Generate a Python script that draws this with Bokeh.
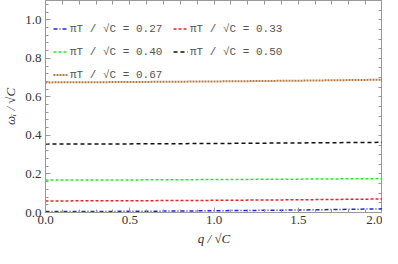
from bokeh.plotting import figure
from bokeh.models import (Range1d, LinearAxis, Legend, LegendItem, SingleIntervalTicker,
                          FixedTicker, NumeralTickFormatter)
from bokeh.embed import file_html
from bokeh.resources import INLINE

q = [0.0, 0.5, 1.0, 1.5, 2.0]
w027 = [0.005, 0.006, 0.009, 0.013, 0.019]
w033 = [0.060, 0.061, 0.063, 0.066, 0.070]
w040 = [0.168, 0.169, 0.171, 0.173, 0.176]
w050 = [0.355, 0.356, 0.358, 0.361, 0.364]
w067 = [0.675, 0.677, 0.680, 0.684, 0.689]
labels = ["πT / √C = 0.27", "πT / √C = 0.33", "πT / √C = 0.40",
          "πT / √C = 0.50", "πT / √C = 0.67"]
x_ticks_minor = [i / 10 for i in range(0, 21)]
y_ticks_minor = [i / 20 for i in range(0, 23)]

p = figure(width=382, height=248, output_backend="svg", toolbar_location=None,
           x_range=Range1d(0, 2.0), y_range=Range1d(0, 1.1),
           min_border_left=7, min_border_right=0, min_border_top=0, min_border_bottom=0)
p.grid.visible = False
p.outline_line_color = "#999999"
p.background_fill_color = "white"

series = [
    (w027, "#2222ee", "4 2 1 2", 1.5),
    (w033, "#ee2222", "3 2", 1.5),
    (w040, "#22ee22", "3 2", 1.5),
    (w050, "#111111", "4 3", 1.5),
    (w067, "#b87a40", "2 1", 2.0),
]
items = []
for (ys, c, d, lw), lab in zip(series, labels):
    r = p.line(q, ys, line_color=c, line_dash=d, line_width=lw)
    items.append(LegendItem(label=lab, renderers=[r]))

def style_axis(ax):
    ax.axis_line_color = "#999999"
    ax.major_tick_line_color = "#999999"
    ax.minor_tick_line_color = "#999999"
    ax.major_tick_in = 5
    ax.major_tick_out = 0
    ax.minor_tick_in = 3
    ax.minor_tick_out = 0
    ax.major_label_text_font = "Liberation Serif"
    ax.major_label_text_font_size = "13px"
    ax.major_label_text_color = "#333333"
    ax.axis_label_text_font = "Liberation Serif"
    ax.axis_label_text_font_style = "italic"
    ax.axis_label_text_font_size = "13px"
    ax.axis_label_text_color = "#333333"

p.xaxis.ticker = SingleIntervalTicker(interval=0.5, num_minor_ticks=5)
p.yaxis.ticker = SingleIntervalTicker(interval=0.2, num_minor_ticks=5)
p.xaxis.formatter = NumeralTickFormatter(format="0.0")
p.yaxis.formatter = NumeralTickFormatter(format="0.0")
p.xaxis.axis_label = "q / √C"
p.yaxis.axis_label = "ωᵢ / √C"
style_axis(p.xaxis[0])
style_axis(p.yaxis[0])
p.xaxis.major_label_standoff = 3
p.yaxis.major_label_standoff = 4
p.xaxis.axis_label_standoff = 4
p.yaxis.axis_label_standoff = 4

top = LinearAxis(ticker=FixedTicker(ticks=[], minor_ticks=x_ticks_minor))
right = LinearAxis(ticker=FixedTicker(ticks=[], minor_ticks=y_ticks_minor))
for ax in (top, right):
    ax.axis_line_color = "#999999"
    ax.minor_tick_line_color = "#999999"
    ax.minor_tick_in = 4
    ax.minor_tick_out = 0
    ax.major_tick_in = 0
    ax.major_tick_out = 0
    ax.major_label_standoff = 0
p.add_layout(top, "above")
p.add_layout(right, "right")

legend = Legend(items=items, location=(2, 120), ncols=2, orientation="horizontal",
                label_text_font="Liberation Mono", label_text_font_size="11px",
                label_text_color="#555555", glyph_width=15, glyph_height=23,
                label_height=23, label_width=103, label_standoff=2, spacing=0,
                padding=6, margin=0,
                background_fill_alpha=0, border_line_alpha=0)
p.add_layout(legend)

open("out.html", "w").write(file_html(p, INLINE))
